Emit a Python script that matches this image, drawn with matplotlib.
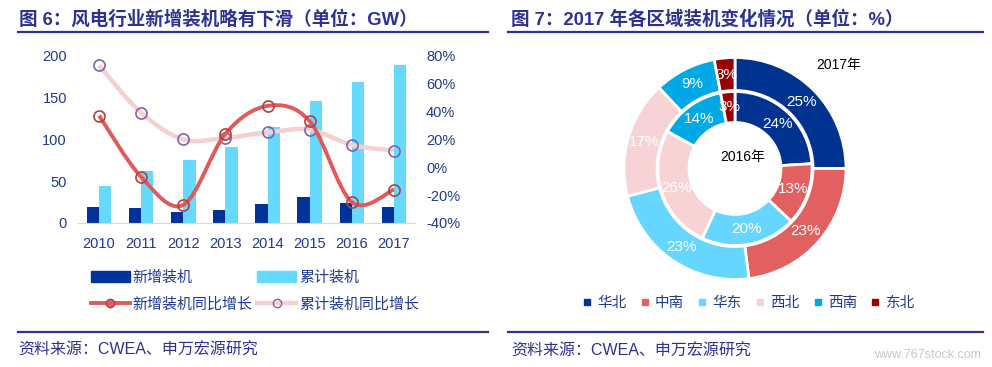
import numpy as np
import matplotlib
matplotlib.use('Agg')
import matplotlib.pyplot as plt
from matplotlib.path import Path
from matplotlib.patches import PathPatch, Patch
from matplotlib.lines import Line2D

plt.rcParams['font.family'] = ['Liberation Sans', 'Noto Sans CJK SC', 'DejaVu Sans']

# data
years = ['2010', '2011', '2012', '2013', '2014', '2015', '2016', '2017']
new_gw = [18.9, 17.6, 13.0, 16.1, 23.2, 30.8, 23.4, 19.7]
cum_gw = [44.7, 62.4, 75.3, 91.4, 114.6, 145.4, 168.7, 188.4]
new_yoy = [37, -7, -27, 24, 44, 33, -25, -16]
cum_yoy = [73, 39, 20, 21, 25, 27, 16, 12]

regions = ['华北', '中南', '华东', '西北', '西南', '东北']
share_2017 = [25, 23, 23, 17, 9, 3]
share_2016 = [24, 13, 20, 26, 14, 3]

NAVY = '#2e3192'
TXT = '#1f3a8f'
DARK = '#003399'
LIGHT = '#66d9ff'
RED = '#e05a5a'
PINK = '#f6cfd0'
region_colors = ['#00338f', '#e26060', '#66d6ff', '#f8d3d5', '#00a9e6', '#990000']

W, H = 992, 367
fig = plt.figure(figsize=(W / 100, H / 100), dpi=100)


def fx(px):
    return px / W


def fy(py):
    return 1 - py / H


def rect(x0, y0, x1, y1):
    return [fx(x0), fy(y1), (x1 - x0) / W, (y1 - y0) / H]


# Excel-like smoothed line through the points (cubic bezier segments)
def smooth_path(x, y):
    pts = np.column_stack([x, y]).astype(float)
    verts = [pts[0]]
    codes = [Path.MOVETO]
    n = len(pts)
    for i in range(n - 1):
        p0 = pts[max(i - 1, 0)]
        p1 = pts[i]
        p2 = pts[i + 1]
        p3 = pts[min(i + 2, n - 1)]
        c1 = p1 + (p2 - p0) / 6
        c2 = p2 - (p3 - p1) / 6
        verts += [c1, c2, p2]
        codes += [Path.CURVE4] * 3
    return Path(verts, codes)


# ---------- left chart ----------
fig.add_artist(Line2D([fx(18), fx(488)], [fy(32), fy(32)], color=NAVY, lw=1.6))
fig.add_artist(Line2D([fx(18), fx(488)], [fy(332), fy(332)], color=NAVY, lw=1.6))
fig.text(fx(19), fy(19), '图 6：风电行业新增装机略有下滑（单位：GW）', color=NAVY,
         fontsize=13.3, fontweight='bold', va='center', ha='left')
fig.text(fx(18), fy(350), '资料来源：CWEA、申万宏源研究', color=NAVY,
         fontsize=11.5, va='center', ha='left')

ax = fig.add_axes(rect(78, 55.7, 415, 223))
x = np.arange(len(years))
bw = 0.29
b1 = ax.bar(x - bw / 2, new_gw, bw, color=DARK, zorder=2)
b2 = ax.bar(x + bw / 2, cum_gw, bw, color=LIGHT, zorder=2)
ax.set_xlim(-0.5, len(years) - 0.5)
ax.set_ylim(0, 200)
ax.set_yticks([0, 50, 100, 150, 200])
ax.set_xticks(x)
ax.set_xticklabels(years)
for s in ['top', 'left', 'right']:
    ax.spines[s].set_visible(False)
ax.spines['bottom'].set_color('#d9d9d9')
ax.tick_params(length=0, labelsize=10.5, colors=TXT, pad=8)
ax.tick_params(axis='x', pad=10)

ax2 = ax.twinx()
ax2.set_ylim(-40, 80)
ax2.set_yticks([-40, -20, 0, 20, 40, 60, 80])
ax2.set_yticklabels([f'{v}%' for v in [-40, -20, 0, 20, 40, 60, 80]])
for s in ax2.spines.values():
    s.set_visible(False)
ax2.tick_params(length=0, labelsize=10.5, colors=TXT, pad=8)

ax2.add_patch(PathPatch(smooth_path(x, cum_yoy), fill=False, edgecolor=PINK, lw=3.2, zorder=3))
ax2.plot(x, cum_yoy, ls='none', marker='o', ms=8, mfc='none', mec='#7d64a8', mew=1.2, zorder=4)
ax2.add_patch(PathPatch(smooth_path(x, new_yoy), fill=False, edgecolor=RED, lw=2.8, zorder=5))
ax2.plot(x, new_yoy, ls='none', marker='o', ms=8, mfc='none', mec='#b53f3f', mew=1.2, zorder=6)

h_new = Patch(color=DARK)
h_cum = Patch(color=LIGHT)
h_newy = Line2D([], [], color=RED, lw=2.8, marker='o', ms=6, mfc='#e06060', mec='#b53f3f')
h_cumy = Line2D([], [], color=PINK, lw=3.2, marker='o', ms=6, mfc='none', mec='#7d64a8')
fig.legend([h_new, h_newy, h_cum, h_cumy],
           ['新增装机', '新增装机同比增长', '累计装机', '累计装机同比增长'],
           ncol=2, loc='center left', bbox_to_anchor=(fx(77), fy(291)),
           frameon=False, fontsize=10.8, labelcolor=TXT, handlelength=2.6,
           handleheight=0.8, handletextpad=0.2, columnspacing=0.3, labelspacing=0.85)

# ---------- right chart ----------
fig.add_artist(Line2D([fx(508), fx(983)], [fy(32), fy(32)], color=NAVY, lw=1.6))
fig.add_artist(Line2D([fx(508), fx(983)], [fy(332), fy(332)], color=NAVY, lw=1.6))
fig.text(fx(511), fy(19), '图 7：2017 年各区域装机变化情况（单位：%）', color=NAVY,
         fontsize=13.3, fontweight='bold', va='center', ha='left')
fig.text(fx(511), fy(351), '资料来源：CWEA、申万宏源研究', color=NAVY,
         fontsize=11.5, va='center', ha='left')
fig.text(fx(981), fy(355), 'www.767stock.com', color='#c8c8c8',
         fontsize=9, va='center', ha='right')

cx, cy, half = 735, 168.5, 120
axp = fig.add_axes(rect(cx - half, cy - half, cx + half, cy + half))
wp = dict(edgecolor='white', linewidth=2)
tp = dict(color='white', fontsize=11)
axp.pie(share_2017, colors=region_colors, radius=111, startangle=90, counterclock=False,
        wedgeprops=dict(width=33, **wp), autopct=lambda p: f'{p:.0f}%',
        pctdistance=0.85, textprops=tp)
axp.pie(share_2016, colors=region_colors, radius=77, startangle=90, counterclock=False,
        wedgeprops=dict(width=31, **wp), autopct=lambda p: f'{p:.0f}%',
        pctdistance=0.80, textprops=tp)
axp.set_xlim(-half, half)
axp.set_ylim(-half, half)
axp.set_aspect('equal')
axp.axis('off')
axp.text(104, 103, '2017年', color='black', fontsize=10, ha='center', va='center')
axp.text(8, 12, '2016年', color='black', fontsize=10, ha='center', va='center')

rh = [Line2D([], [], ls='none', marker='s', ms=4, color=c) for c in region_colors]
fig.legend(rh, regions, ncol=6, loc='center', bbox_to_anchor=(fx(748), fy(303)),
           frameon=False, fontsize=10.5, labelcolor=TXT, handlelength=0.8,
           handletextpad=0.3, columnspacing=0.85)

fig.savefig('out.png', dpi=100)
